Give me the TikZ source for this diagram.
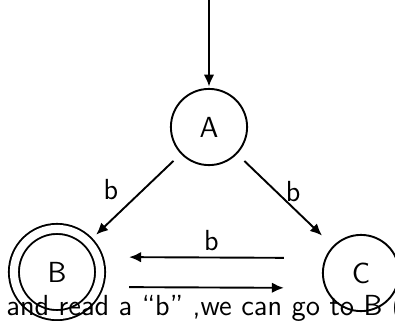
\documentclass[tikz,border=0pt]{standalone}
\usepackage{tikz}
\usetikzlibrary{arrows.meta}
\begin{document}
\begin{tikzpicture}[x=0.42pt, y=-0.42pt, font=\sffamily\fontsize{12.2pt}{14pt}\selectfont,
        state/.style={circle, draw, thick, minimum size=32pt, inner sep=0pt},
        accept/.style={circle, draw, thick, double, double distance=3.4pt, minimum size=36.2pt, inner sep=0pt},
        paths/.style={thick, -{Latex[length=5pt, width=4.4pt]}},
        label/.style={inner sep=0pt}
    ]
        \clip (0,0) rectangle (395,320);

        % States
        \node[state] (A) at (209,127) {A};
        \node[accept] (B) at (57,272) {B};
        \node[state] (C) at (361,273) {C};
        \coordinate (start) at (209,0);

        % Transitions
        \draw[paths, shorten >=0.6pt] (start) -- (A);
        \draw[paths, shorten <=4.2pt, shorten >=4.2pt] (A) -- (B) node[midway, label, xshift=-10pt, yshift=3.4pt] {b};
        \draw[paths, shorten <=4.2pt, shorten >=6.3pt] (A) -- (C) node[midway, label, xshift=3.4pt, yshift=3.4pt] {b};
        \draw[paths, shorten <=16pt, shorten >=11.8pt] ([yshift=6.3pt]C.west) -- ([yshift=6.3pt]B.east) node[midway, above, inner sep=2.6pt] {b};
        \draw[paths, shorten <=11.8pt, shorten >=16pt] ([yshift=-6.3pt]B.east) -- ([yshift=-6.3pt]C.west);

        % Text below
        \node[anchor=base west, inner sep=0pt] (note) at (6,315) {and read a ``b'' ,we can go to B (};

\end{tikzpicture}
\end{document}
